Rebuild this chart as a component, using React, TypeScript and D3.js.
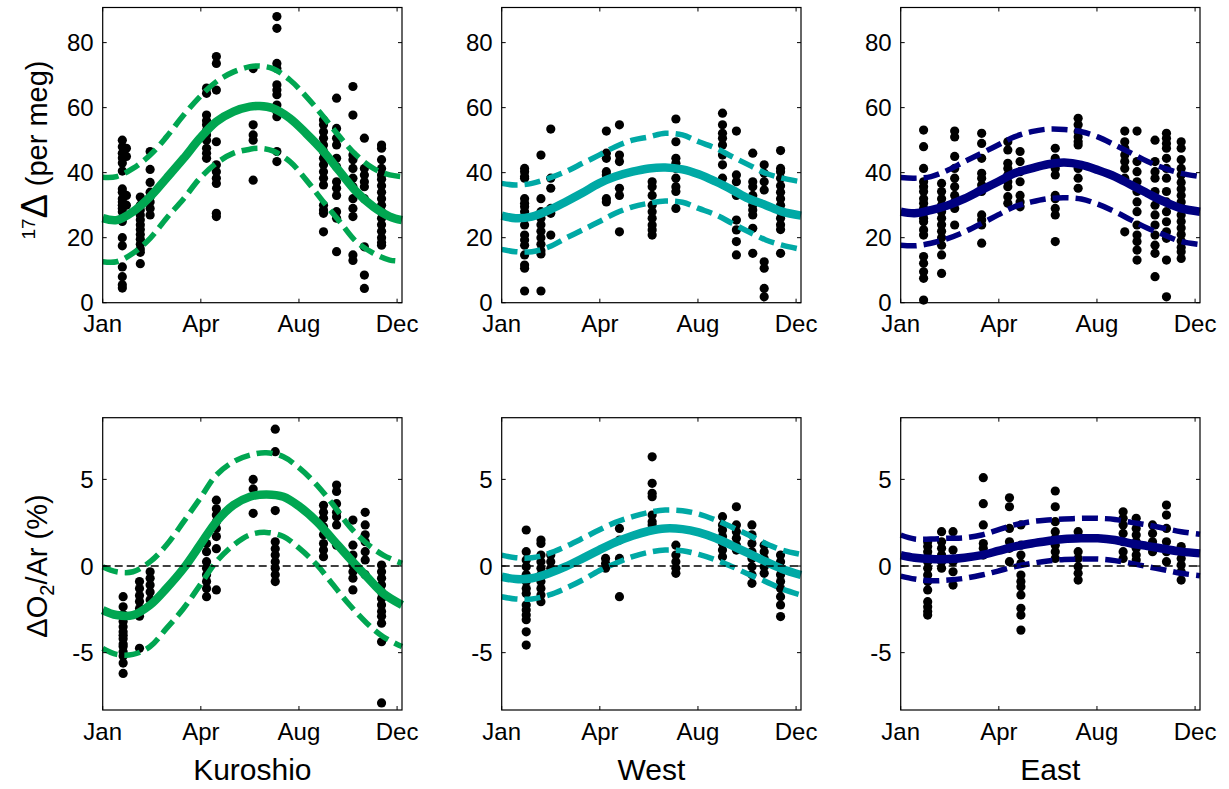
import React from 'react';
import * as d3 from 'd3';

// ---------- data ----------
const monthLabels = ['Jan', 'Apr', 'Aug', 'Dec'];
const monthTickDays = [0, 120, 240, 360];
const d17TickValues = [0, 20, 40, 60, 80];
const o2TickValues = [-5, 0, 5];
const regionNames = ['Kuroshio', 'West', 'East'];
const regionColors = ['#00A651', '#00A9A5', '#000080'];

// day-of-year positions where the fitted curves were read
const fitDays = [0, 17, 37, 58, 78, 99, 119, 139, 160, 180, 200, 221, 241, 262, 282, 302, 323, 343, 366];
const kuroD17FitDays = [0, 17, 37, 58, 78, 99, 119, 139, 160, 180, 192, 208, 229, 249, 270, 290, 310, 331, 351, 366];

// 17Δ fits (per meg)
const kuroD17Mean = [26, 25.4, 28, 32.6, 38.3, 44.4, 50.6, 55.7, 58.8, 60.3, 60.5, 59.8, 56.7, 52, 46.5, 40.3, 34.2, 29.5, 26.5, 25.4];
const kuroD17Upper = [38.6, 38.8, 41.3, 45.4, 51, 57.7, 63.4, 68, 71, 72.6, 72.8, 72, 68.5, 63.4, 57.2, 51, 45.4, 41.3, 39.3, 38.8];
const kuroD17Lower = [12.6, 12.6, 15.2, 19.8, 26, 32, 38.3, 42.9, 46, 47.2, 47.5, 46.7, 43.4, 37.7, 31, 24.9, 18.8, 15.2, 13.1, 12.8];

const westD17Mean = [26.8, 26, 26.5, 28.5, 31, 33.8, 36.7, 38.8, 40.3, 41.3, 41.6, 41, 39.5, 37.2, 34.7, 32, 30, 28, 26.8];
const westD17Upper = [36.7, 36.2, 36.7, 38.3, 40.3, 42.9, 45.4, 48, 50, 51, 52.1, 51.6, 49.5, 47.5, 44.9, 42.4, 39.8, 38.3, 37.2];
const westD17Lower = [16.4, 15.7, 15.7, 17.2, 19.8, 22.4, 24.9, 27.5, 29.5, 30.6, 31.3, 30.9, 29, 27, 24.4, 21.8, 19.3, 17.7, 16.4];

const eastD17Mean = [28, 27.5, 28.5, 30, 32, 34.7, 37.2, 39.8, 41.3, 42.6, 43.1, 42.4, 40.8, 38.8, 36.2, 33.6, 31, 29, 28];
const eastD17Upper = [38.5, 38.3, 38.8, 40.8, 43.4, 46, 48.5, 51, 52.6, 53.4, 53.3, 52.6, 51, 48.5, 46, 43.4, 41.3, 39.8, 38.8];
const eastD17Lower = [17.7, 17.5, 18.3, 19.8, 21.8, 24.4, 27, 29.5, 31, 32, 32.3, 31.9, 30.3, 28, 25.4, 22.9, 20.8, 18.8, 17.9];

// ΔO2/Ar fits (%)
const kuroO2Mean = [-2.54, -2.83, -2.83, -2.25, -1.29, -0.13, 1.21, 2.56, 3.52, 4, 4.13, 4, 3.42, 2.56, 1.5, 0.44, -0.62, -1.58, -2.25];
const kuroO2Upper = [-0.04, -0.33, -0.33, 0.25, 1.21, 2.56, 3.9, 5.25, 6.02, 6.4, 6.54, 6.3, 5.63, 4.67, 3.52, 2.27, 1.3, 0.63, 0.15];
const kuroO2Lower = [-4.75, -5.1, -5.1, -4.65, -3.6, -2.44, -1.1, 0.25, 1.21, 1.8, 1.94, 1.7, 1, 0.06, -1.1, -2.25, -3.3, -4.08, -4.65];

const westO2Mean = [-0.62, -0.75, -0.71, -0.42, -0.04, 0.44, 0.92, 1.37, 1.75, 2.02, 2.17, 2.13, 1.94, 1.6, 1.17, 0.73, 0.25, -0.17, -0.52];
const westO2Upper = [0.63, 0.48, 0.48, 0.73, 1.12, 1.6, 2.08, 2.52, 2.85, 3.1, 3.23, 3.19, 3, 2.65, 2.23, 1.79, 1.3, 0.92, 0.67];
const westO2Lower = [-1.77, -1.9, -1.9, -1.67, -1.29, -0.81, -0.27, 0.15, 0.54, 0.79, 0.92, 0.88, 0.67, 0.35, -0.04, -0.48, -0.9, -1.33, -1.67];

const eastO2Mean = [0.63, 0.48, 0.4, 0.4, 0.48, 0.63, 0.87, 1.12, 1.3, 1.44, 1.56, 1.6, 1.6, 1.5, 1.3, 1.15, 0.98, 0.83, 0.73];
const eastO2Upper = [1.79, 1.56, 1.56, 1.6, 1.63, 1.79, 2.08, 2.37, 2.56, 2.65, 2.71, 2.75, 2.75, 2.69, 2.52, 2.37, 2.17, 1.98, 1.83];
const eastO2Lower = [-0.58, -0.75, -0.85, -0.81, -0.71, -0.52, -0.29, -0.04, 0.15, 0.29, 0.38, 0.4, 0.4, 0.31, 0.15, -0.04, -0.23, -0.42, -0.56];

// observations: [day of year, values at that day]
type Col = [number, number[]];
const kuroD17Obs: Col[] = [
  [24, [50, 48, 46, 44.5, 43, 40.5, 35, 34, 32, 31, 30, 29, 28, 26, 25, 20, 17.5, 11, 8, 5.5, 4.5]],
  [29, [47.5, 45, 33, 30]],
  [46, [32.5, 30, 28.5, 27, 25.5, 24, 22.5, 21, 19.5, 18, 16.5, 15.5, 12]],
  [58, [46.5, 41, 37, 34, 32.6, 31, 29, 27]],
  [127, [66, 64.4, 57.7, 56, 54.7, 53, 51.6, 50, 47.5, 46, 44.4]],
  [139, [75.7, 73.6, 65.4, 49.5, 42.4, 40.3, 38.3, 36.7, 27.5, 26.5]],
  [184, [72, 54.7, 51.6, 50, 37.7]],
  [213, [88, 84.4, 73.6, 72, 67, 65.4, 64, 60.8, 58.8, 57.2, 46.5, 43.4]],
  [270, [56.2, 54.7, 52.6, 50.6, 48.5, 46.5, 44.4, 42.4, 40.3, 38.3, 36.2, 30, 28.5, 27.5, 21.8]],
  [286, [62.9, 53.6, 50.6, 48.5, 44.4, 41.8, 37.2, 35.2, 33, 28, 26, 15.7]],
  [306, [66.5, 57.7, 45.4, 44, 41.3, 38.3, 35.7, 32, 29, 26.5, 14.7, 13]],
  [320, [50.6, 41.3, 39.3, 37.2, 35.7, 32, 17.2, 8.5, 4.4]],
  [341, [48.5, 47.5, 44, 41.3, 39.3, 38, 36, 34, 32, 30, 28, 26, 24, 22, 20, 18.5, 17.7]],
];
const westD17Obs: Col[] = [
  [28, [41.3, 40.3, 38.8, 38.3, 32, 30.6, 29.5, 28, 26, 23.9, 20.8, 19.3, 17.7, 14.7, 11.6, 10.6, 3.6]],
  [48, [45.4, 32, 28, 26, 24, 22, 20, 18, 16, 15, 3.6]],
  [60, [53.4, 38.3, 35.2, 29, 27.5, 20.8]],
  [128, [52.8, 46, 44.4, 40.3, 39.3, 32, 31]],
  [144, [54.7, 45.4, 43.4, 35.2, 33, 21.8]],
  [184, [37.2, 35.7, 33, 30, 28, 26, 23.9, 22.4, 20.8]],
  [213, [56.5, 49.5, 44.4, 42.9, 41.3, 38.3, 35.7, 34.2, 29]],
  [270, [58.3, 54.7, 52.1, 50.6, 48.5, 45.4, 42.4, 38.3]],
  [287, [52.8, 39.3, 37.2, 33, 25.4, 22.4, 18.8, 14.7]],
  [307, [46, 37.2, 35.7, 33, 30, 28.5, 27, 22.9, 15.2]],
  [321, [42.4, 39.8, 37.2, 34.7, 12.6, 10.6, 4.4, 1.8]],
  [341, [46.8, 41.3, 40.3, 38.3, 36, 34, 32, 30, 28, 26, 24, 22.5, 15.2]],
];
const eastD17Obs: Col[] = [
  [28, [53.1, 48, 41.3, 37.2, 35.7, 34.2, 32, 30.6, 29, 27.5, 26, 24.9, 22.4, 20.8, 14.2, 12.1, 9.5, 7.5, 0.8]],
  [50, [36.7, 34.2, 32, 30, 28, 26, 24, 22, 20, 17.7, 14.7, 9]],
  [66, [52.8, 51, 45, 41.3, 38.3, 35.7, 33, 31, 29, 23.9]],
  [99, [52.1, 49, 44.4, 39.8, 38.3, 36.2, 34.2, 27, 25.4, 23.9, 18.3]],
  [131, [49.5, 47, 42.9, 41.3, 39.3, 37.2, 35.7, 32.6, 30.6]],
  [146, [46.5, 43.4, 40.3, 37.2, 33, 31, 29.5]],
  [189, [47.5, 44.4, 42.4, 41.3, 39.3, 33, 32, 29, 27, 18.8]],
  [217, [56.7, 54.7, 52.6, 51, 49.5, 48.5, 41.3, 38.3, 35.2]],
  [274, [52.8, 49.5, 47.5, 45.4, 43.4, 41.3, 38.3, 21.8]],
  [289, [52.8, 43.4, 40.3, 37.2, 34.2, 31, 28, 23.9, 20.8, 18.8, 16.2, 13.1]],
  [311, [50, 43.4, 40.3, 38.3, 34.2, 30, 27, 23.9, 20.8, 17.7, 15.2, 8]],
  [325, [52.1, 50.6, 49, 47.5, 44.4, 41.3, 38.3, 34.2, 31, 28, 24.9, 21.8, 19.8, 13.1, 1.8]],
  [343, [49.5, 47.5, 44, 41.3, 39.3, 37, 35, 33, 31, 29, 27, 25, 23, 21, 19, 17, 15.7, 13.6]],
];
const kuroO2Obs: Col[] = [
  [25, [-1.77, -2.35, -2.8, -3.2, -3.5, -3.8, -4, -4.2, -4.5, -4.65, -4.95, -5.2, -5.6, -6.2]],
  [45, [-0.9, -1.3, -1.7, -2.05, -2.45, -2.9, -4.75]],
  [58, [-0.33, -0.7, -1.1, -1.5, -1.95]],
  [127, [1.3, 0.83, 0.25, -0.13, -0.5, -0.9, -1.3, -1.77]],
  [139, [3.8, 3.3, 2.95, 2.55, 2.17, 1.7, 1, -1.38]],
  [184, [5, 4.45, 3.04]],
  [211, [7.9, 6.6, 3.2, 1.4, 1, 0.63, 0.25, -0.13, -0.5, -0.9]],
  [270, [3.5, 3.1, 2.75, 2.27, 1.8, 1.3, 0.92, 0.54]],
  [286, [4.67, 4.3, 3.6, 3.1, 2.85, 2.37, 1.2]],
  [306, [2.65, 1.2, 0.63, 0.06, -0.33, -0.7, -1.38]],
  [321, [3.1, 2.37, 1.8, 1.4, 0.83, 0.35, -0.5]],
  [341, [0.06, -0.33, -0.7, -1.1, -1.5, -1.87, -2.25, -2.63, -2.9, -3.3, -4.37, -7.9]],
];
const westO2Obs: Col[] = [
  [30, [2.08, 0.83, 0.35, -0.04, -0.5, -0.9, -1.3, -1.58, -2.25, -2.54, -2.83, -3.1, -3.8, -4.56]],
  [48, [1.5, 1.3, 0.63, 0.25, -0.13, -0.5, -0.9, -1.3, -1.67, -2.06]],
  [60, [0.63, 0.25, -0.13]],
  [127, [0.44, 0.15, -0.13]],
  [144, [2.17, 1.5, 0.44, -1.77]],
  [184, [6.3, 4.77, 4.2, 4, 2.94, 2.55, 2.37]],
  [213, [1.2, 0.63, 0.25, -0.13, -0.42]],
  [270, [2.85, 2.37, 2.08, 1.7, 1.3, 0.92, 0.54]],
  [287, [3.42, 2.37, 1.98, 1.6, 1.2, 0.92]],
  [306, [2.37, 1.8, 1.3, 0.83, 0.44, -0.04, -0.5, -1]],
  [321, [1.2, 0.83, 0.44, -0.04, -0.42]],
  [341, [0.63, 0.25, -0.13, -0.5, -0.9, -1.3, -1.77, -2.25, -2.92]],
];
const eastO2Obs: Col[] = [
  [33, [1.4, 1.12, 0.83, 0.54, 0.25, -0.13, -0.52, -0.9, -1.38, -2.06, -2.35, -2.63, -2.83]],
  [50, [1.98, 1.4, 1.02, 0.63, 0.25, -0.13]],
  [64, [1.98, 0.92, 0.25, -0.33, -1.1]],
  [101, [5.1, 3.6, 2.37, 1.3, 1.02, 0.63]],
  [133, [3.94, 3.42, 2.17, 1.4, 1.02, 0.25]],
  [147, [2.37, 1.2, 0.63, 0.15, -0.52, -0.9, -1.19, -1.67, -2.44, -2.83, -3.7]],
  [189, [4.33, 3.42, 2.56, 1.98, 1.6, 1.2, 0.83, 0.44]],
  [217, [1.98, 0.83, 0.44, -0.04, -0.42, -0.81]],
  [272, [3.13, 2.75, 2.37, 1.88, 1.4, 0.83, 0.44]],
  [288, [2.75, 2.17, 1.79, 1.4, 1.02, 0.63, 0.35]],
  [308, [2.37, 1.88, 1.4, 0.83]],
  [325, [3.52, 2.94, 2.17, 1.4, 0.83, 0.25]],
  [343, [1.12, 0.83, 0.44, 0.06, -0.33, -0.81]],
];

// ---------- layout ----------
const W = 1229;
const H = 789;
const panelLefts = [102.7, 501.7, 900.7];
const panelWidth = 299.3;
const rowTop = [7.5, 417.7];
const rowBottom = [302.7, 710];
const xDomain: [number, number] = [0, 366];
const d17Domain: [number, number] = [0, 90.8];
const o2Domain: [number, number] = [-8.31, 8.56];
const FONT = 'Liberation Sans, Arial, Helvetica, sans-serif';

type PanelProps = {
  left: number; top: number; bottom: number;
  yDomain: [number, number]; yTicks: number[];
  days: number[]; mean: number[]; upper: number[]; lower: number[];
  obs: Col[]; color: string; zeroLine: boolean;
};

function Panel(p: PanelProps) {
  const x = d3.scaleLinear().domain(xDomain).range([p.left, p.left + panelWidth]);
  const y = d3.scaleLinear().domain(p.yDomain).range([p.bottom, p.top]);
  const line = d3.line<number>()
    .x((_, i) => x(p.days[i]))
    .y((v) => y(v))
    .curve(d3.curveCatmullRom.alpha(0.5));
  const pts: [number, number][] = [];
  p.obs.forEach(([d, vals]) => vals.forEach((v) => pts.push([d, v])));
  const right = p.left + panelWidth;
  const tl = 4;
  return (
    <g>
      <rect x={p.left} y={p.top} width={panelWidth} height={p.bottom - p.top} fill="#fff" />
      {pts.map(([d, v], i) => (
        <circle key={i} cx={x(d)} cy={y(v)} r={4.6} fill="#000" />
      ))}
      <path d={line(p.upper) || ''} fill="none" stroke={p.color} strokeWidth={5.5} strokeDasharray="16 7" />
      <path d={line(p.lower) || ''} fill="none" stroke={p.color} strokeWidth={5.5} strokeDasharray="16 7" />
      <path d={line(p.mean) || ''} fill="none" stroke={p.color} strokeWidth={8.5} />
      {p.zeroLine && (
        <line x1={p.left} x2={right} y1={y(0)} y2={y(0)} stroke="#000" strokeWidth={1.3} strokeDasharray="8 4" />
      )}
      <rect x={p.left} y={p.top} width={panelWidth} height={p.bottom - p.top} fill="none" stroke="#000" strokeWidth={1.2} />
      {monthTickDays.map((d, i) => (
        <g key={'x' + i}>
          <line x1={x(d)} x2={x(d)} y1={p.bottom} y2={p.bottom - tl} stroke="#000" />
          <line x1={x(d)} x2={x(d)} y1={p.top} y2={p.top + tl} stroke="#000" />
          <text x={x(d)} y={p.bottom + 29.5} textAnchor="middle" fontSize={24} fontFamily={FONT}>{monthLabels[i]}</text>
        </g>
      ))}
      {p.yTicks.map((t, i) => (
        <g key={'y' + i}>
          <line x1={p.left} x2={p.left + tl} y1={y(t)} y2={y(t)} stroke="#000" />
          <line x1={right} x2={right - tl} y1={y(t)} y2={y(t)} stroke="#000" />
          <text x={p.left - 9} y={y(t)} dy="0.36em" textAnchor="end" fontSize={24} fontFamily={FONT}>{t}</text>
        </g>
      ))}
    </g>
  );
}

export default function App() {
  const d17 = [
    { days: kuroD17FitDays, mean: kuroD17Mean, upper: kuroD17Upper, lower: kuroD17Lower, obs: kuroD17Obs },
    { days: fitDays, mean: westD17Mean, upper: westD17Upper, lower: westD17Lower, obs: westD17Obs },
    { days: fitDays, mean: eastD17Mean, upper: eastD17Upper, lower: eastD17Lower, obs: eastD17Obs },
  ];
  const o2 = [
    { days: fitDays, mean: kuroO2Mean, upper: kuroO2Upper, lower: kuroO2Lower, obs: kuroO2Obs },
    { days: fitDays, mean: westO2Mean, upper: westO2Upper, lower: westO2Lower, obs: westO2Obs },
    { days: fitDays, mean: eastO2Mean, upper: eastO2Upper, lower: eastO2Lower, obs: eastO2Obs },
  ];
  return (
    <svg width={W} height={H} style={{ position: 'absolute', left: 0, top: 0, background: '#fff' }}>
      <rect width={W} height={H} fill="#fff" />
      {d17.map((s, i) => (
        <Panel key={'t' + i} left={panelLefts[i]} top={rowTop[0]} bottom={rowBottom[0]}
          yDomain={d17Domain} yTicks={d17TickValues} color={regionColors[i]} zeroLine={false} {...s} />
      ))}
      {o2.map((s, i) => (
        <Panel key={'b' + i} left={panelLefts[i]} top={rowTop[1]} bottom={rowBottom[1]}
          yDomain={o2Domain} yTicks={o2TickValues} color={regionColors[i]} zeroLine={true} {...s} />
      ))}
      <text transform="translate(47,150) rotate(-90)" textAnchor="middle" fontSize={29} fontFamily={FONT}>
        <tspan fontSize={19} dy={-12}>17</tspan>
        <tspan fontSize={36} dy={12}>Δ</tspan>
        <tspan> (per meg)</tspan>
      </text>
      <text transform="translate(47,566) rotate(-90)" textAnchor="middle" fontSize={29} fontFamily={FONT}>
        <tspan>ΔO</tspan>
        <tspan fontSize={20} dy={7}>2</tspan>
        <tspan dy={-7}>/Ar (%)</tspan>
      </text>
      {regionNames.map((n, i) => (
        <text key={n} x={panelLefts[i] + panelWidth / 2} y={780} textAnchor="middle" fontSize={30} fontFamily={FONT}>{n}</text>
      ))}
    </svg>
  );
}
